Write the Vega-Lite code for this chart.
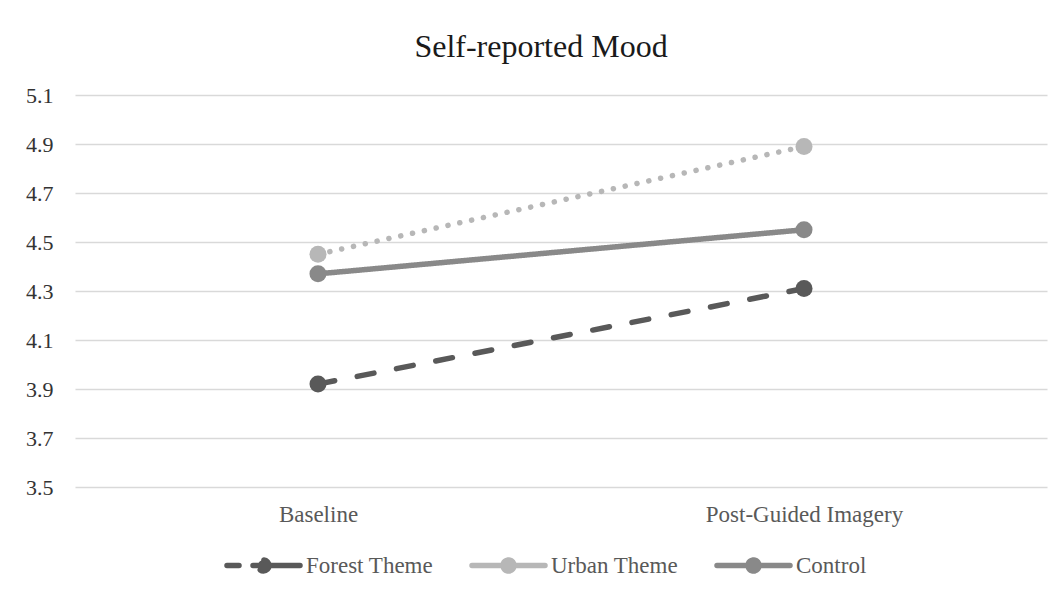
{
  "$schema": "https://vega.github.io/schema/vega-lite/v6.json",
  "width": 972,
  "height": 392,
  "autosize": {"type": "none"},
  "padding": {"left": 75, "top": 95, "right": 15, "bottom": 112},
  "background": "white",
  "title": {
    "text": "Self-reported Mood",
    "fontSize": 32,
    "font": "Liberation Serif",
    "fontWeight": "normal",
    "color": "#1a1a1a",
    "anchor": "middle",
    "dx": -20,
    "baseline": "alphabetic",
    "offset": -5
  },
  "data": {
    "values": [
      {"phase": "Baseline", "group": "Forest Theme", "style": "dashed", "mood": 3.92},
      {"phase": "Post-Guided Imagery", "group": "Forest Theme", "style": "dashed", "mood": 4.31},
      {"phase": "Baseline", "group": "Urban Theme", "style": "dotted", "mood": 4.45},
      {"phase": "Post-Guided Imagery", "group": "Urban Theme", "style": "dotted", "mood": 4.89},
      {"phase": "Baseline", "group": "Control", "style": "solid", "mood": 4.37},
      {"phase": "Post-Guided Imagery", "group": "Control", "style": "solid", "mood": 4.55}
    ]
  },
  "mark": {
    "type": "line",
    "strokeWidth": 5.5,
    "strokeCap": "round",
    "point": {"filled": true, "size": 290, "opacity": 1}
  },
  "encoding": {
    "x": {
      "field": "phase",
      "type": "nominal",
      "sort": ["Baseline", "Post-Guided Imagery"],
      "scale": {"type": "point", "padding": 0.5},
      "axis": {
        "title": null,
        "labelAngle": 0,
        "domain": false,
        "ticks": false,
        "grid": false,
        "labelPadding": 16,
        "labelFontSize": 23,
        "labelLimit": 0,
        "labelFont": "Liberation Serif",
        "labelColor": "#595959"
      }
    },
    "y": {
      "field": "mood",
      "type": "quantitative",
      "scale": {"domain": [3.5, 5.1], "zero": false, "nice": false},
      "axis": {
        "title": null,
        "values": [3.5, 3.7, 3.9, 4.1, 4.3, 4.5, 4.7, 4.9, 5.1],
        "format": ".1f",
        "domain": false,
        "ticks": false,
        "labelPadding": 22,
        "labelFontSize": 22,
        "labelFont": "Liberation Serif",
        "labelColor": "#333333",
        "gridColor": "#d9d9d9",
        "gridWidth": 1.5
      }
    },
    "color": {
      "field": "group",
      "type": "nominal",
      "sort": ["Forest Theme", "Urban Theme", "Control"],
      "scale": {
        "domain": ["Forest Theme", "Urban Theme", "Control"],
        "range": ["#595959", "#b7b7b7", "#898989"]
      },
      "legend": {
        "title": null,
        "orient": "none",
        "legendX": 149,
        "legendY": 431,
        "direction": "horizontal",
        "columns": 3,
        "gridAlign": "all",
        "columnPadding": 27,
        "symbolType": "M-1,0L1,0M0.15,0A0.15,0.15,0,1,1,-0.15,0A0.15,0.15,0,1,1,0.15,0Z",
        "symbolSize": 5329,
        "symbolStrokeWidth": 5.5,
        "labelFont": "Liberation Serif",
        "labelFontSize": 23,
        "labelColor": "#595959",
        "labelOffset": 3,
        "encode": {
          "symbols": {
            "update": {
              "fill": {"signal": "scale('color', datum.value)"},
              "stroke": {"signal": "scale('color', datum.value)"},
              "opacity": {"value": 1},
              "strokeCap": {"value": "round"},
              "strokeDash": {"signal": "datum.value === 'Forest Theme' ? [12, 14, 80] : [1, 0]"}
            }
          }
        }
      }
    },
    "strokeDash": {
      "field": "style",
      "type": "nominal",
      "scale": {
        "domain": ["dashed", "dotted", "solid"],
        "range": [[17, 23], [0.1, 12], [1, 0]]
      },
      "legend": null
    }
  },
  "config": {"view": {"stroke": null}}
}
